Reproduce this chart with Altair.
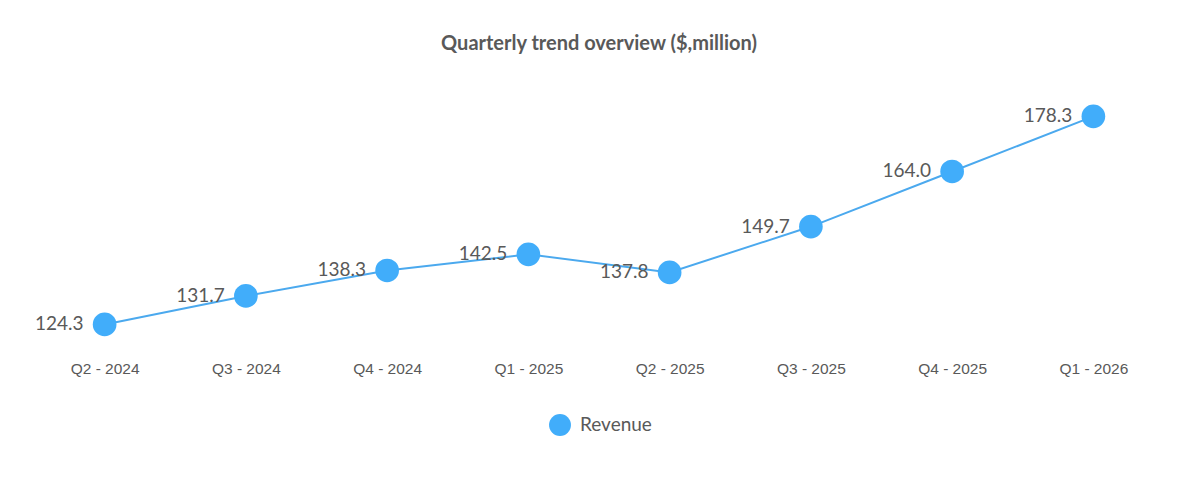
import altair as alt
import pandas as pd

quarters = ["Q2 - 2024", "Q3 - 2024", "Q4 - 2024", "Q1 - 2025",
            "Q2 - 2025", "Q3 - 2025", "Q4 - 2025", "Q1 - 2026"]
revenue = [124.3, 131.7, 138.3, 142.5, 137.8, 149.7, 164.0, 178.3]
series = ["Revenue"] * len(quarters)

df = pd.DataFrame({"quarter": quarters, "value": revenue, "series": series})

x = alt.X("quarter:N", sort=quarters, title=None,
          scale=alt.Scale(type="point", padding=0.5),
          axis=alt.Axis(labelAngle=0, domain=False, ticks=False, grid=False,
                        labelPadding=20, labelFont="Liberation Sans",
                        labelFontSize=15.5, labelColor="#595959"))
y = alt.Y("value:Q", title=None, scale=alt.Scale(domain=[120, 188], nice=False, zero=False),
          axis=None)

base = alt.Chart(df)

line = base.mark_line(color="#4BA9EE", strokeWidth=2).encode(x=x, y=y)

points = base.mark_point(filled=True, opacity=1, size=560, shape="circle").encode(
    x=x, y=y,
    color=alt.Color("series:N", title=None,
                    scale=alt.Scale(domain=["Revenue"], range=["#41ADFA"]),
                    legend=alt.Legend(orient="none", legendX=514, legendY=334,
                                      symbolType="circle", symbolSize=480,
                                      symbolOpacity=1,
                                      labelFont="Lato", labelFontSize=19,
                                      labelColor="#595959", labelOffset=8)))

labels = base.mark_text(align="right", baseline="middle", dx=-21, font="Lato",
                        fontSize=19, color="#595959").encode(
    x=x, y=y, text=alt.Text("value:Q", format=".1f"))

chart = alt.layer(line, labels, points).properties(
    width=1130, height=262,
    padding={"left": 26, "top": 71, "right": 20, "bottom": 120},
    autosize=alt.AutoSizeParams(type="none"),
    title=alt.TitleParams("Quarterly trend overview ($,million)", anchor="middle",
                          font="Lato", fontSize=20, fontWeight="bold",
                          color="#595959", offset=25),
).configure_view(stroke=None)

chart.save("out.html", embed_options={"renderer": "svg", "actions": False})
